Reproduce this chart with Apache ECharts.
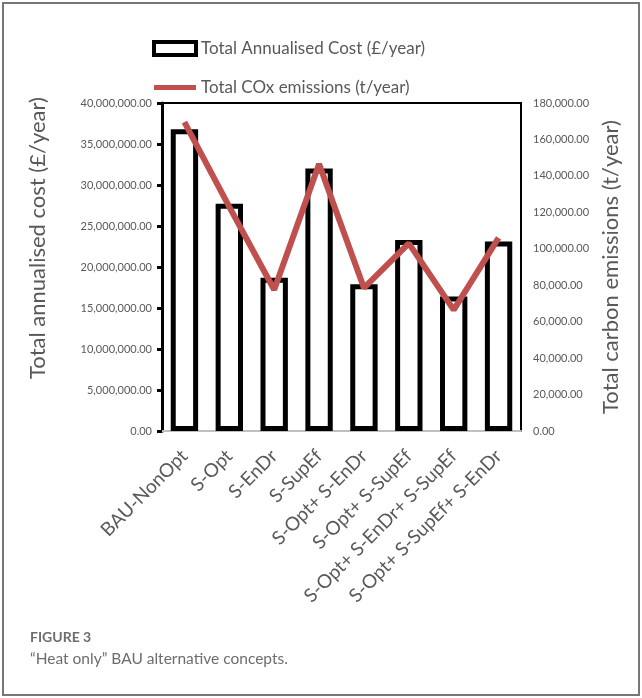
<!DOCTYPE html>
<html>
<head>
<meta charset="utf-8">
<script src="https://cdn.jsdelivr.net/npm/echarts@6/dist/echarts.min.js"></script>
<style>
  html, body { margin: 0; padding: 0; background: #fff; }
  #chart { width: 642px; height: 698px; }
</style>
</head>
<body>
<div id="chart"></div>
<script>
// categories along the x axis
const categories = [
  'BAU-NonOpt', 'S-Opt', 'S-EnDr', 'S-SupEf', 'S-Opt+ S-EnDr',
  'S-Opt+ S-SupEf', 'S-Opt+ S-EnDr+ S-SupEf', 'S-Opt+ S-SupEf+ S-EnDr'
]
// annualised cost, £/year (left axis)
const costValues = [36800000, 27700000, 18700000, 32000000, 17900000, 23300000, 16400000, 23100000]
// CO2 emissions, t/year (right axis)
const emissionValues = [169500, 123000, 77500, 146500, 78500, 103000, 66500, 106000]

const fmt = (v) => v.toLocaleString('en-US', { minimumFractionDigits: 2, maximumFractionDigits: 2 })
const textGrey = '#595959'
const font = 'Lato'

const myChart = echarts.init(document.getElementById('chart'))

const options = {
  animation: false,
  textStyle: { fontFamily: font },
  legend: {
    orient: 'vertical',
    left: 147,
    top: 35,
    itemWidth: 42,
    itemHeight: 13,
    itemGap: 22,
    textStyle: { fontSize: 17, color: textGrey, fontFamily: font },
    data: [
      {
        name: 'Total Annualised Cost (£/year)',
        icon: 'rect',
        itemStyle: { color: '#fff', borderColor: '#000', borderWidth: 4 }
      },
      {
        name: 'Total COx emissions (t/year)',
        // thin bar in a 42x13 box (moveTo points only set the box)
        icon: 'path://M0,0M42,13M0,4L42,4L42,9L0,9Z',
        itemStyle: { color: '#c0504d', borderWidth: 0 }
      }
    ]
  },
  grid: {
    left: 162,
    right: 121,
    top: 103,
    bottom: 267,
    show: true,
    borderColor: '#000',
    borderWidth: 2,
    backgroundColor: 'transparent'
  },
  xAxis: {
    type: 'category',
    data: categories,
    axisLine: { lineStyle: { color: '#bfbfbf', width: 2 } },
    axisTick: { show: false },
    axisLabel: {
      rotate: 45,
      interval: 0,
      fontSize: 19,
      color: textGrey,
      margin: 22
    }
  },
  yAxis: [
    {
      type: 'value',
      min: 0,
      max: 40000000,
      interval: 5000000,
      name: 'Total annualised cost (£/year)',
      nameLocation: 'middle',
      nameGap: 113,
      // the title sits a bit above the axis middle, as in the original
      nameTextStyle: { fontSize: 22, color: textGrey, padding: [0, 0, 0, 58] },
      axisLine: { show: true, lineStyle: { color: '#000', width: 3 } },
      axisTick: { show: true, length: 5, lineStyle: { color: '#000', width: 3 } },
      splitLine: { show: false },
      axisLabel: { fontSize: 11, color: textGrey, margin: 10, formatter: fmt }
    },
    {
      type: 'value',
      min: 0,
      max: 180000,
      interval: 20000,
      position: 'right',
      name: 'Total carbon emissions (t/year)',
      nameLocation: 'middle',
      nameGap: 76,
      nameTextStyle: { fontSize: 22, color: textGrey },
      axisLine: { show: false },
      axisTick: { show: false },
      splitLine: { show: false },
      axisLabel: { fontSize: 11, color: textGrey, margin: 12, formatter: fmt }
    }
  ],
  series: [
    {
      name: 'Total Annualised Cost (£/year)',
      type: 'bar',
      yAxisIndex: 0,
      barWidth: '61%',
      data: costValues,
      itemStyle: { color: '#fff', borderColor: '#000', borderWidth: 5 }
    },
    {
      name: 'Total COx emissions (t/year)',
      type: 'line',
      yAxisIndex: 1,
      symbol: 'none',
      data: emissionValues,
      itemStyle: { color: '#c0504d' },
      lineStyle: { color: '#c0504d', width: 6 }
    }
  ],
  graphic: [
    {
      type: 'rect',
      shape: { x: 3, y: 3, width: 636, height: 692 },
      style: { fill: 'none', stroke: '#777', lineWidth: 2 },
      silent: true
    },
    {
      type: 'text',
      left: 30,
      top: 630,
      style: { text: 'FIGURE 3', fontSize: 14, fontWeight: 'bold', fill: '#6d6d6d', fontFamily: font }
    },
    {
      type: 'text',
      left: 30,
      top: 651,
      style: { text: '\u201cHeat only\u201d BAU alternative concepts.', fontSize: 15.5, fill: '#6d6d6d', fontFamily: font }
    }
  ]
}

myChart.setOption(options)
</script>
</body>
</html>
